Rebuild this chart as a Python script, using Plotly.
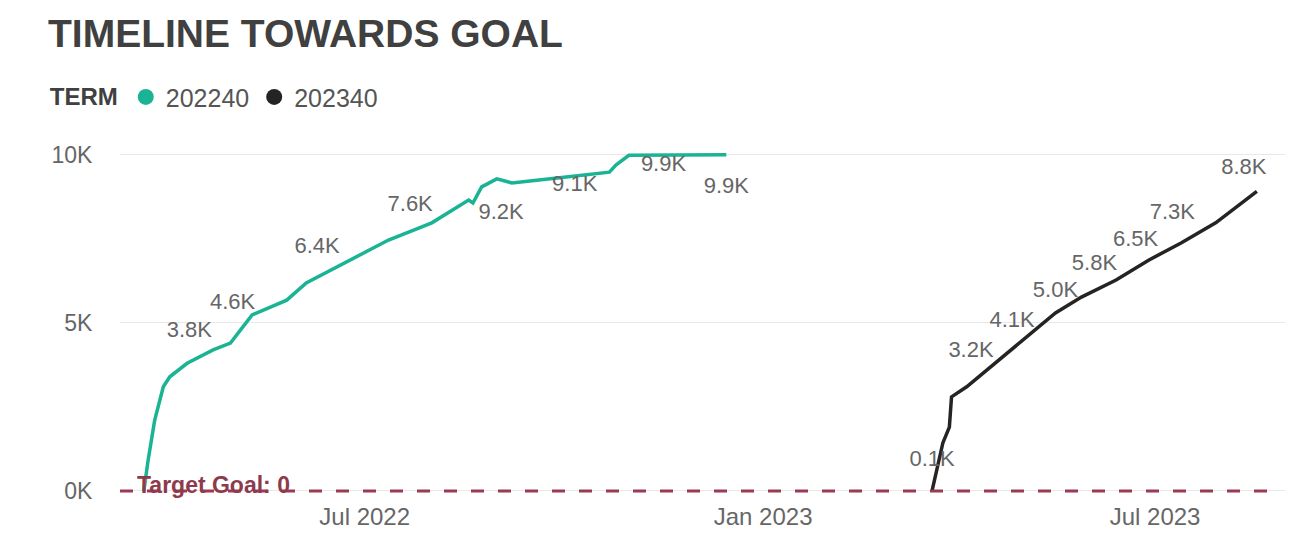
import plotly.graph_objects as go

# ---------------- data ----------------
terms = ["202240", "202340"]
term_colors = ["#1ab394", "#252423"]

green_dates = ["2022-03-21", "2022-03-23", "2022-03-26", "2022-03-30", "2022-04-02",
               "2022-04-10", "2022-04-22", "2022-04-30", "2022-05-10", "2022-05-26",
               "2022-06-04", "2022-06-27", "2022-07-12", "2022-08-01", "2022-08-18",
               "2022-08-20", "2022-08-24", "2022-08-31", "2022-09-07", "2022-09-29",
               "2022-10-22", "2022-10-25", "2022-10-31", "2022-12-15"]
green_values = [0, 920, 2100, 3100, 3400, 3800, 4200, 4400, 5240, 5680,
                6190, 6960, 7470, 7980, 8660, 8570, 9050, 9290, 9170, 9320,
                9490, 9700, 9990, 10010]

black_dates = ["2023-03-20", "2023-03-25", "2023-03-28", "2023-03-29", "2023-04-05",
               "2023-04-20", "2023-05-05", "2023-05-16", "2023-05-28", "2023-06-13",
               "2023-06-28", "2023-07-13", "2023-07-29", "2023-08-17"]
black_values = [0, 1430, 1900, 2800, 3100, 3900, 4700, 5300, 5770, 6280,
                6870, 7380, 7980, 8920]

green_label_text = ["3.8K", "4.6K", "6.4K", "7.6K", "9.2K", "9.1K", "9.9K", "9.9K"]
green_label_dates = ["2022-04-11", "2022-05-01", "2022-06-09", "2022-07-22",
                     "2022-09-02", "2022-10-06", "2022-11-16", "2022-12-15"]
green_label_y = [4760, 5570, 7240, 8510, 8270, 9080, 9700, 9020]

black_label_text = ["0.1K", "3.2K", "4.1K", "5.0K", "5.8K", "6.5K", "7.3K", "8.8K"]
black_label_dates = ["2023-03-20", "2023-04-07", "2023-04-26", "2023-05-16",
                     "2023-06-03", "2023-06-22", "2023-07-09", "2023-08-11"]
black_label_y = [920, 4140, 5030, 5950, 6730, 7470, 8270, 9610]

target_goal = 0
target_label = "<b>Target Goal: 0</b>"

y_tickvals = [0, 5000, 10000]
y_ticktext = ["0K", "5K", "10K"]
x_tickvals = ["2022-07-01", "2023-01-01", "2023-07-01"]
x_ticktext = ["Jul 2022", "Jan 2023", "Jul 2023"]
x_range = ["2022-03-10", "2023-08-30"]
y_range = [-268, 10446]

FONT = "Liberation Sans, Arial, sans-serif"

fig = go.Figure()

series = [(green_dates, green_values), (black_dates, black_values)]
for (dx, dy), name, col in zip(series, terms, term_colors):
    fig.add_trace(go.Scatter(x=dx, y=dy, mode="lines", name=name,
                             line=dict(color=col, width=3.5),
                             showlegend=False, hoverinfo="x+y"))

for lx, ly, lt in [(green_label_dates, green_label_y, green_label_text),
                   (black_label_dates, black_label_y, black_label_text)]:
    fig.add_trace(go.Scatter(x=lx, y=ly, text=lt, mode="text",
                             textposition="middle center",
                             textfont=dict(family=FONT, size=22, color="#666666"),
                             showlegend=False, hoverinfo="skip"))

# legend entries (circle markers)
for name, col in zip(terms, term_colors):
    fig.add_trace(go.Scatter(x=[None], y=[None], mode="markers", name=name,
                             marker=dict(color=col, size=20, symbol="circle"),
                             showlegend=True))

fig.add_shape(type="line", xref="paper", yref="y", x0=0, x1=0.996,
              y0=target_goal, y1=target_goal,
              line=dict(color="#9c3a52", width=3, dash="13px,14px"), layer="above")

fig.add_annotation(xref="paper", yref="y", x=0.013, y=target_goal,
                   text=target_label, showarrow=False,
                   xanchor="left", yanchor="middle", yshift=6,
                   font=dict(family=FONT, size=23, color="#8e3a4d"))

fig.update_layout(
    width=1307, height=549,
    margin=dict(l=120, r=22, t=140, b=49, autoexpand=False),
    paper_bgcolor="white", plot_bgcolor="white",
    font=dict(family=FONT, color="#666666"),
    title=dict(text="<b>TIMELINE TOWARDS GOAL</b>", x=48 / 1307, xanchor="left",
               y=1 - 33 / 549, yanchor="middle",
               font=dict(family=FONT, size=39, color="#404040")),
    legend=dict(orientation="h", x=-0.062, xanchor="left", y=1.119, yanchor="middle",
                title=dict(text="<b>TERM</b>", font=dict(family=FONT, size=24, color="#404040")),
                font=dict(family=FONT, size=25, color="#555555"),
                itemwidth=30, tracegroupgap=0, bgcolor="rgba(0,0,0,0)"),
    xaxis=dict(range=x_range, type="date", tickvals=x_tickvals, ticktext=x_ticktext,
               showgrid=False, zeroline=False, showline=False, automargin=False,
               ticks="", ticklen=0,
               tickfont=dict(family=FONT, size=24, color="#666666")),
    yaxis=dict(range=y_range, tickvals=y_tickvals, ticktext=y_ticktext,
               showgrid=True, gridcolor="#e8e8e8", gridwidth=1, zeroline=False,
               showline=False, ticks="outside", ticklen=22, tickcolor="rgba(0,0,0,0)",
               automargin=False,
               tickfont=dict(family=FONT, size=23, color="#666666")),
)

fig.write_html("out.html")
